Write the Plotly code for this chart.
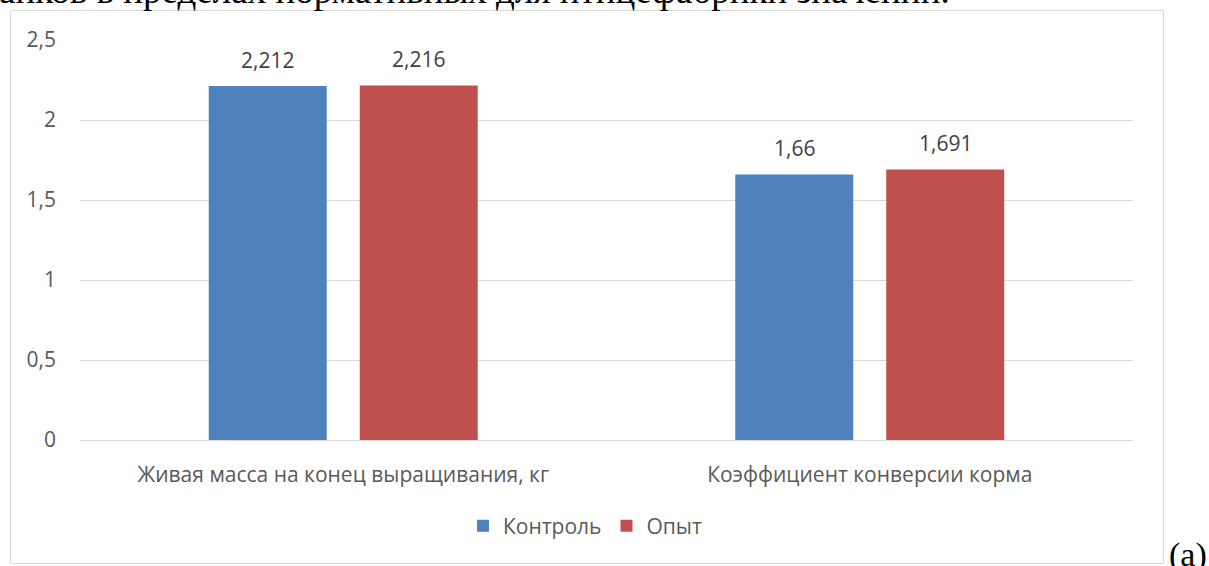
import plotly.graph_objects as go

categories = ["Живая масса на конец выращивания, кг", "Коэффициент конверсии корма"]
control_vals = [2.212, 1.66]
exp_vals = [2.216, 1.691]
control_labels = ["2,212", "1,66"]
exp_labels = ["2,216", "1,691"]
tick_vals = [0, 0.5, 1, 1.5, 2, 2.5]
tick_text = ["0", "0,5", "1", "1,5", "2", "2,5"]

W, H = 1209, 566
L, R, T, B = 80, 76, 40, 126
pw, ph = W - L - R, H - T - B

def px(x):
    return (x - L) / pw

def py(y):
    return (H - B - y) / ph

FONT = "Open Sans"
TXT = "#595959"
FS = 21

BARGAP = 0.4264
GROUPGAP = 0.2185
slot_px = pw / 2 * (1 - BARGAP) / 2  # pixel width of one bar slot
lab_shift = slot_px / 2

fig = go.Figure()
fig.add_trace(go.Bar(name="Контроль", x=categories, y=control_vals, marker_color="#4F81BD",
                     marker_line_width=0))
fig.add_trace(go.Bar(name="Опыт", x=categories, y=exp_vals, marker_color="#C0504D",
                     marker_line_width=0))

annotations = []
for cat, v, t in zip(categories, control_vals, control_labels):
    annotations.append(dict(x=cat, y=v, text=t, xref="x", yref="y", showarrow=False,
                            xshift=-lab_shift, yshift=26, yanchor="middle",
                            font=dict(family=FONT, size=FS, color="#404040")))
for cat, v, t in zip(categories, exp_vals, exp_labels):
    annotations.append(dict(x=cat, y=v, text=t, xref="x", yref="y", showarrow=False,
                            xshift=lab_shift, yshift=26, yanchor="middle",
                            font=dict(family=FONT, size=FS, color="#404040")))

top_text = "анков в пределах нормативных для птицефабрики значений."
annotations.append(dict(text=top_text, xref="paper", yref="paper",
                        x=px(952), y=py(-9), xanchor="right", yanchor="middle", showarrow=False,
                        font=dict(family="Liberation Serif", size=37, color="black")))
annotations.append(dict(text="(a)", xref="paper", yref="paper", x=px(1167), y=py(555),
                        xanchor="left", yanchor="middle", showarrow=False,
                        font=dict(family="Liberation Serif", size=34, color="black")))

fig.update_layout(
    width=W, height=H,
    margin=dict(l=L, r=R, t=T, b=B, pad=0),
    paper_bgcolor="white", plot_bgcolor="white",
    barmode="group", bargap=BARGAP, bargroupgap=GROUPGAP,
    font=dict(family=FONT, size=FS, color=TXT),
    showlegend=True,
    legend=dict(orientation="h", x=px(585), xanchor="center", y=py(526), yanchor="middle",
                font=dict(size=FS, color=TXT, family=FONT), itemwidth=30,
                traceorder="normal"),
    xaxis=dict(showgrid=False, showline=False, ticks="", tickfont=dict(size=FS, color=TXT),
               ticklabelstandoff=20),
    yaxis=dict(range=[0, 2.5], tickvals=tick_vals, ticktext=tick_text, showgrid=True,
               gridcolor="#D9D9D9", gridwidth=1, zeroline=True, zerolinecolor="#D9D9D9",
               zerolinewidth=1, showline=False, ticks="", ticklabelstandoff=23,
               tickfont=dict(size=FS, color=TXT)),
    shapes=[dict(type="rect", xref="paper", yref="paper",
                 x0=px(10.5), x1=px(1163.5), y0=py(563.5), y1=py(10.5),
                 line=dict(color="#D9D9D9", width=1), fillcolor="rgba(0,0,0,0)", layer="below")],
    annotations=annotations,
)

fig.write_html("out.html", config={"displayModeBar": False},
               post_script="document.body.style.margin='0';document.body.style.overflow='hidden';")
